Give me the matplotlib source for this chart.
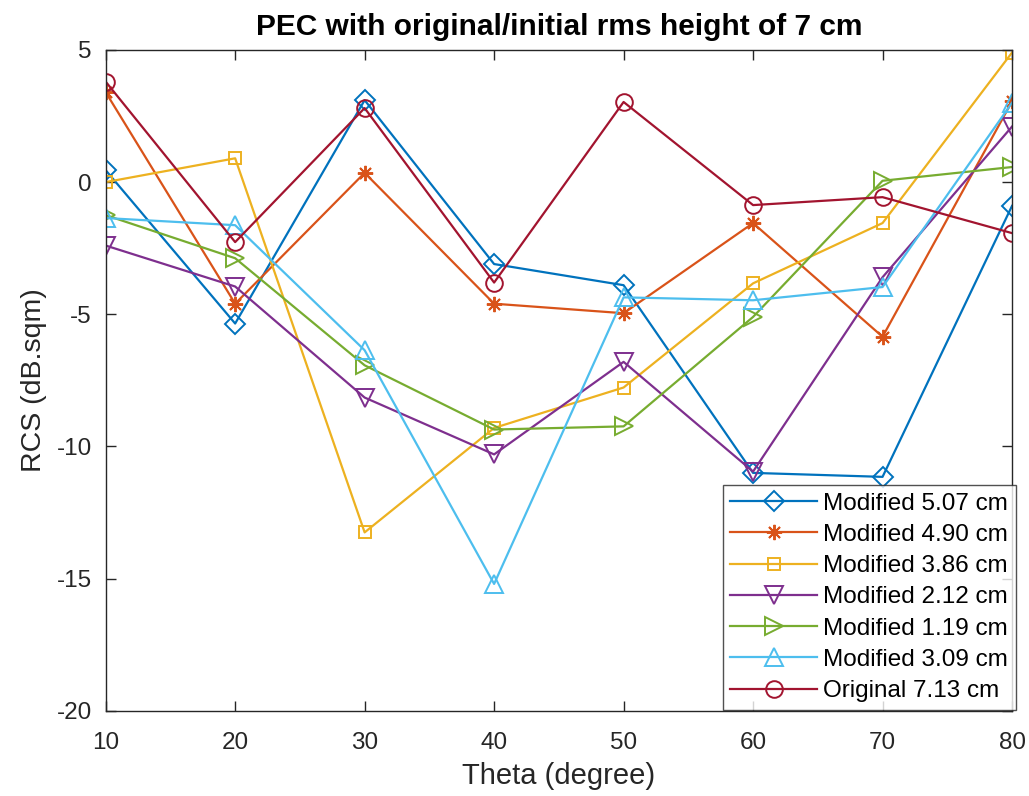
import matplotlib
matplotlib.use("Agg")
import matplotlib.pyplot as plt

plt.rcParams['font.family'] = ['Liberation Sans', 'DejaVu Sans']
plt.rcParams['axes.unicode_minus'] = False

theta = [10, 20, 30, 40, 50, 60, 70, 80]

mod_507 = [0.45, -5.35, 3.1, -3.1, -3.9, -11.0, -11.15, -0.9]
mod_490 = [3.4, -4.6, 0.35, -4.6, -4.96, -1.55, -5.85, 3.05]
mod_386 = [0.0, 0.9, -13.25, -9.3, -7.77, -3.83, -1.55, 4.9]
mod_212 = [-2.4, -3.95, -8.15, -10.3, -6.8, -10.95, -3.6, 2.1]
mod_119 = [-1.25, -2.88, -6.93, -9.36, -9.24, -5.1, 0.05, 0.57]
mod_309 = [-1.36, -1.63, -6.36, -15.2, -4.36, -4.47, -3.97, 3.0]
orig_713 = [3.8, -2.27, 2.8, -3.8, 3.03, -0.87, -0.57, -1.93]

labels = ['Modified 5.07 cm', 'Modified 4.90 cm', 'Modified 3.86 cm',
          'Modified 2.12 cm', 'Modified 1.19 cm', 'Modified 3.09 cm',
          'Original 7.13 cm']
colors = ['#0072BD', '#D95319', '#EDB120', '#7E2F8E', '#77AC30', '#4DBEEE', '#A2142F']
markers = ['D', (8, 2, 0), 's', 'v', '>', '^', 'o']
msizes = [10, 11, 9, 13, 13, 13, 12]
series = [mod_507, mod_490, mod_386, mod_212, mod_119, mod_309, orig_713]

fig = plt.figure(figsize=(10.29, 7.96), dpi=100)
ax = fig.add_axes([0.1027, 0.107, 0.8808, 0.8303])

for ys, lab, c, m, ms in zip(series, labels, colors, markers, msizes):
    ax.plot(theta, ys, color=c, marker=m, markersize=ms, markerfacecolor='none',
            markeredgecolor=c, markeredgewidth=1.4, linewidth=1.6, label=lab)

ax.set_xlim(10, 80)
ax.set_ylim(-20, 5)
ax.set_xticks(theta)
ax.set_yticks([-20, -15, -10, -5, 0, 5])
ax.tick_params(direction='in', top=True, right=True, labelsize=17.5,
               colors='#262626', length=7, width=1)
ax.tick_params(axis='x', pad=15)
ax.tick_params(axis='y', pad=10)
for sp in ax.spines.values():
    sp.set_color('#262626')
    sp.set_linewidth(1)

ax.set_xlabel('Theta (degree)', fontsize=21, color='#262626', labelpad=6)
ax.set_ylabel('RCS (dB.sqm)', fontsize=20.5, color='#262626', labelpad=7)
ax.set_title('PEC with original/initial rms height of 7 cm', fontsize=21.5,
             fontweight='bold', pad=11)

leg = ax.legend(loc='lower right', bbox_to_anchor=(1.004, 0.002), fontsize=17.5,
                frameon=True, fancybox=False, edgecolor='#262626', borderaxespad=0,
                handlelength=3.6, labelspacing=0.38, borderpad=0.3,
                handletextpad=0.25)
leg.get_frame().set_linewidth(1)

fig.savefig('out.png', dpi=100)
